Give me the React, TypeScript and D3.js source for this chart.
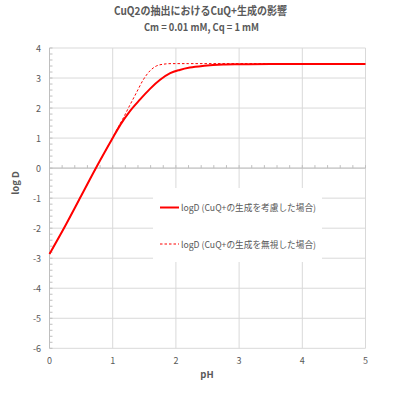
import React from "react";
import * as d3 from "d3";

const titleLine1 = "CuQ2の抽出におけるCuQ+生成の影響";
const titleLine2 = "Cm = 0.01 mM, Cq = 1 mM";
const xTitle = "pH";
const yTitle = "log D";
const legendSolid = "logD (CuQ+の生成を考慮した場合)";
const legendDashed = "logD (CuQ+の生成を無視した場合)";

const xTicks = [0, 1, 2, 3, 4, 5];
const yTicks = [4, 3, 2, 1, 0, -1, -2, -3, -4, -5, -6];

// logD considering CuQ+ formation
const solidPH = [0, 0.25, 0.5, 0.75, 1.0, 1.12, 1.27, 1.43, 1.59, 1.75, 1.91, 2.06, 2.22, 2.45, 2.75, 3.0, 3.5, 4.0, 5.0];
const solidLogD = [-2.86, -1.92, -0.93, 0.06, 1.0, 1.44, 1.89, 2.28, 2.64, 2.94, 3.16, 3.27, 3.35, 3.41, 3.45, 3.46, 3.47, 3.47, 3.47];

// logD ignoring CuQ+ formation
const dashedPH = [0, 0.25, 0.5, 0.75, 1.0, 1.06, 1.17, 1.27, 1.38, 1.48, 1.59, 1.69, 1.8, 1.93, 2.2, 3.0, 5.0];
const dashedLogD = [-2.86, -1.92, -0.93, 0.06, 1.02, 1.26, 1.68, 2.09, 2.53, 2.93, 3.24, 3.4, 3.46, 3.48, 3.48, 3.48, 3.48];

export default function App() {
  const x = d3.scaleLinear().domain([0, 5]).range([49.5, 365.5]);
  const y = d3.scaleLinear().domain([-6, 4]).range([348.3, 48]);

  const line = d3
    .line<[number, number]>()
    .x((d) => x(d[0]))
    .y((d) => y(d[1]))
    .curve(d3.curveMonotoneX);

  const solid = solidPH.map((p, i) => [p, solidLogD[i]] as [number, number]);
  const dashed = dashedPH.map((p, i) => [p, dashedLogD[i]] as [number, number]);

  const minorY = d3.range(-6, 4.0001, 0.2).map((v) => Math.round(v * 10) / 10);
  const minorX = d3.range(0, 5.0001, 0.2).map((v) => Math.round(v * 10) / 10);

  const font = "'Noto Sans CJK JP', 'Noto Sans', sans-serif";
  const gray = "#595959";
  const gridColor = "#d9d9d9";

  return (
    <svg
      width={400}
      height={400}
      style={{ position: "absolute", left: 0, top: 0, background: "#fff" }}
      fontFamily={font}
    >
      <rect x={0} y={0} width={400} height={400} fill="#fff" />
      <text x={200.5} y={15} textAnchor="middle" fontSize={11} fontWeight="bold" fill={gray} textLength={173} lengthAdjust="spacingAndGlyphs">
        {titleLine1}
      </text>
      <text x={201.5} y={31} textAnchor="middle" fontSize={10} fontWeight="bold" fill={gray} textLength={115} lengthAdjust="spacingAndGlyphs">
        {titleLine2}
      </text>

      {/* grid */}
      {yTicks.map((t) => (
        <line key={"gy" + t} x1={x(0)} x2={x(5)} y1={y(t)} y2={y(t)} stroke={gridColor} strokeWidth={1} />
      ))}
      {xTicks.map((t) => (
        <line key={"gx" + t} x1={x(t)} x2={x(t)} y1={y(4)} y2={y(-6)} stroke={gridColor} strokeWidth={1} />
      ))}

      {/* axes */}
      <line x1={x(0)} x2={x(0)} y1={y(4)} y2={y(-6)} stroke="#bfbfbf" strokeWidth={1} />
      <line x1={x(0)} x2={x(5)} y1={y(0)} y2={y(0)} stroke="#bfbfbf" strokeWidth={1} />
      {minorY.map((t) => (
        <line key={"my" + t} x1={x(0)} x2={x(0) + 3} y1={y(t)} y2={y(t)} stroke="#bfbfbf" strokeWidth={1} />
      ))}
      {minorX.map((t) => (
        <line key={"mx" + t} x1={x(t)} x2={x(t)} y1={y(0)} y2={y(0) - 3} stroke="#bfbfbf" strokeWidth={1} />
      ))}

      {/* tick labels */}
      {yTicks.map((t) => (
        <text key={"ly" + t} x={41} y={y(t) + 3.5} textAnchor="end" fontSize={9} fill={gray}>
          {t}
        </text>
      ))}
      {xTicks.map((t) => (
        <text key={"lx" + t} x={x(t)} y={364} textAnchor="middle" fontSize={9} fill={gray}>
          {t}
        </text>
      ))}

      <text x={207} y={378} textAnchor="middle" fontSize={9.5} fontWeight="bold" fill={gray}>
        {xTitle}
      </text>
      <text
        transform={`translate(19,183) rotate(-90)`}
        textAnchor="middle"
        fontSize={9.5}
        fontWeight="bold"
        fill={gray}
      >
        {yTitle}
      </text>

      {/* series */}
      <path d={line(dashed) || ""} fill="none" stroke="#ff0000" strokeWidth={1} strokeDasharray="2.5,2" />
      <path d={line(solid) || ""} fill="none" stroke="#ff0000" strokeWidth={2} />

      {/* legend */}
      <rect x={153} y={188} width={169} height={74} fill="#fff" />
      <line x1={160} x2={179} y1={207.5} y2={207.5} stroke="#ff0000" strokeWidth={2} />
      <text x={181} y={211} fontSize={9} fill={gray} textLength={135} lengthAdjust="spacingAndGlyphs">
        {legendSolid}
      </text>
      <line x1={160} x2={179} y1={244} y2={244} stroke="#ff0000" strokeWidth={1} strokeDasharray="2.5,2" />
      <text x={181} y={247.5} fontSize={9} fill={gray} textLength={135} lengthAdjust="spacingAndGlyphs">
        {legendDashed}
      </text>
    </svg>
  );
}
